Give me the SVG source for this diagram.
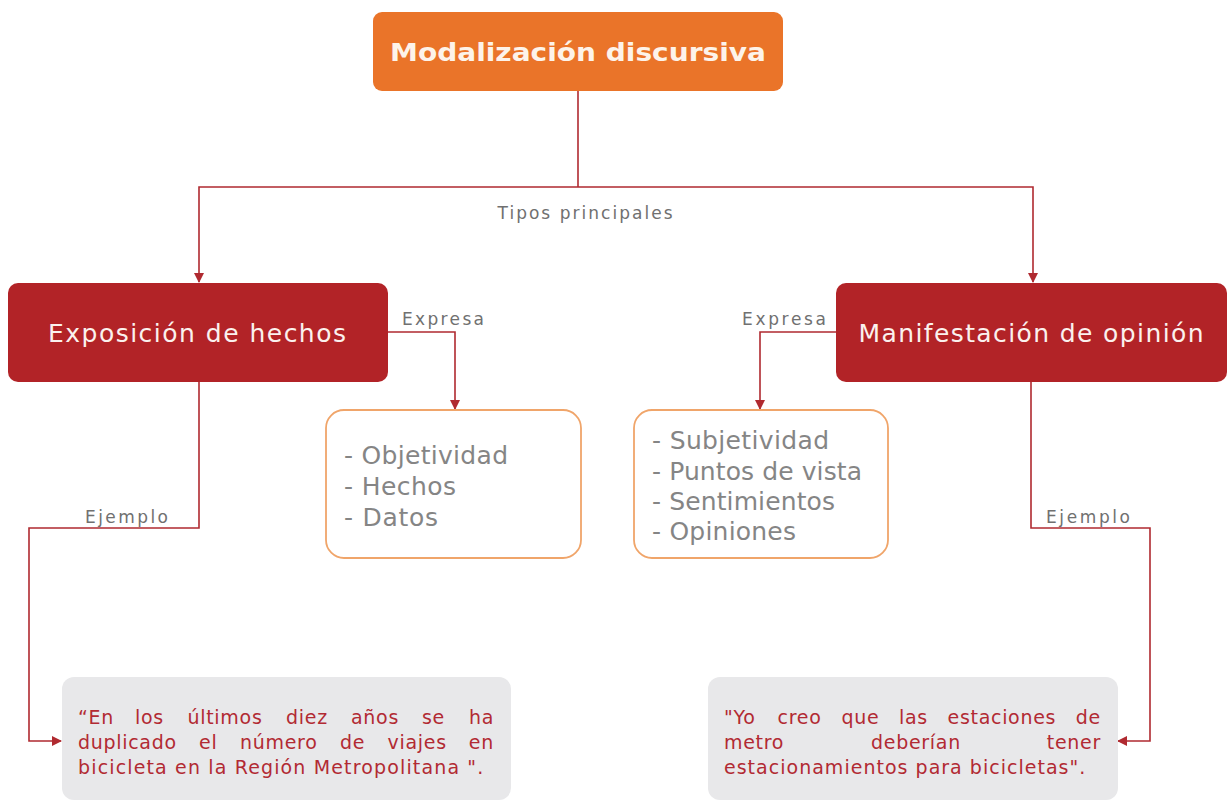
<svg xmlns="http://www.w3.org/2000/svg" width="1227" height="801" viewBox="0 0 1227 801">
<style>
.bg{fill:#ffffff}
.title{font-family:"DejaVu Sans",Verdana,sans-serif;font-weight:bold;font-size:25px;fill:#fdf3ea}
.main{font-family:"DejaVu Sans",Verdana,sans-serif;font-size:25px;fill:#fbf1ee}
.list{font-family:"DejaVu Sans",Verdana,sans-serif;font-size:25px;fill:#858585}
.lbl{font-family:"DejaVu Sans",Verdana,sans-serif;font-size:17px;fill:#707070}
.quote{font-family:"DejaVu Sans",Verdana,sans-serif;font-size:19px;fill:#b22a33;letter-spacing:0.7px}
.conn{fill:none;stroke:#b02a30;stroke-width:1.6}
.red{fill:#b22327}
.opt{fill:#ffffff;stroke:#f0a56a;stroke-width:1.8}
.grey{fill:#e8e8ea}
</style>
<defs>
<marker id="arr" viewBox="0 0 10 10" refX="9" refY="5" markerWidth="10" markerHeight="10" markerUnits="userSpaceOnUse" orient="auto">
<path d="M0,0 L10,5 L0,10 z" fill="#b02a30"/>
</marker>
</defs>
<rect class="bg" x="0" y="0" width="1227" height="801"/>
<g id="connectors">
<path class="conn" d="M578,91 V187"/>
<path class="conn" d="M578,187 H199 V282" marker-end="url(#arr)"/>
<path class="conn" d="M578,187 H1033 V282" marker-end="url(#arr)"/>
<path class="conn" d="M388,332 H455 V409" marker-end="url(#arr)"/>
<path class="conn" d="M836,332 H760 V409" marker-end="url(#arr)"/>
<path class="conn" d="M199,382 V528 H29 V741 H61" marker-end="url(#arr)"/>
<path class="conn" d="M1031,382 V528 H1150 V741 H1118" marker-end="url(#arr)"/>
<text class="lbl" x="585" y="219" text-anchor="middle" textLength="175" lengthAdjust="spacing">Tipos principales</text>
<text class="lbl" x="402" y="325" textLength="82" lengthAdjust="spacing">Expresa</text>
<text class="lbl" x="742" y="325" textLength="84" lengthAdjust="spacing">Expresa</text>
<text class="lbl" x="85" y="523" textLength="83" lengthAdjust="spacing">Ejemplo</text>
<text class="lbl" x="1046" y="523" textLength="84" lengthAdjust="spacing">Ejemplo</text>
</g>
<g id="node-modalizacion">
<rect x="373" y="12" width="410" height="79" rx="9" fill="#ea7429"/>
<text class="title" x="578" y="61" text-anchor="middle" textLength="376" lengthAdjust="spacingAndGlyphs">Modalización discursiva</text>
</g>
<g id="node-exposicion">
<rect class="red" x="8" y="283" width="380" height="99" rx="10"/>
<text class="main" x="197" y="342" text-anchor="middle" textLength="298" lengthAdjust="spacing">Exposición de hechos</text>
</g>
<g id="node-manifestacion">
<rect class="red" x="836" y="283" width="391" height="99" rx="10"/>
<text class="main" x="1031" y="342" text-anchor="middle" textLength="345" lengthAdjust="spacing">Manifestación de opinión</text>
</g>
<g id="node-objetividad">
<rect class="opt" x="326" y="410" width="255" height="148" rx="18"/>
<text class="list" x="344" y="464" textLength="164" lengthAdjust="spacing">- Objetividad</text>
<text class="list" x="344" y="495" textLength="112" lengthAdjust="spacing">- Hechos</text>
<text class="list" x="344" y="526" textLength="94" lengthAdjust="spacing">- Datos</text>
</g>
<g id="node-subjetividad">
<rect class="opt" x="634" y="410" width="254" height="148" rx="18"/>
<text class="list" x="652" y="449" textLength="177" lengthAdjust="spacing">- Subjetividad</text>
<text class="list" x="652" y="480" textLength="210" lengthAdjust="spacing">- Puntos de vista</text>
<text class="list" x="652" y="510" textLength="183" lengthAdjust="spacing">- Sentimientos</text>
<text class="list" x="652" y="540" textLength="144" lengthAdjust="spacing">- Opiniones</text>
</g>
<g id="node-ejemplo-hechos">
<rect class="grey" x="62" y="677" width="449" height="123" rx="12"/>
<text class="quote" y="724"><tspan x="78">“En</tspan><tspan x="135">los</tspan><tspan x="187.5">últimos</tspan><tspan x="286">diez</tspan><tspan x="351">años</tspan><tspan x="422">se</tspan><tspan x="494" text-anchor="end">ha</tspan></text>
<text class="quote" y="749"><tspan x="78">duplicado</tspan><tspan x="199">el</tspan><tspan x="240">número</tspan><tspan x="340">de</tspan><tspan x="387.5">viajes</tspan><tspan x="494" text-anchor="end">en</tspan></text>
<text class="quote" x="78" y="774" textLength="406" lengthAdjust="spacing">bicicleta en la Región Metropolitana ".</text>
</g>
<g id="node-ejemplo-opinion">
<rect class="grey" x="708" y="677" width="410" height="123" rx="12"/>
<text class="quote" y="724"><tspan x="724">"Yo</tspan><tspan x="777.5">creo</tspan><tspan x="841.5">que</tspan><tspan x="899">las</tspan><tspan x="947.5">estaciones</tspan><tspan x="1101" text-anchor="end">de</tspan></text>
<text class="quote" y="749"><tspan x="724">metro</tspan><tspan x="871">deberían</tspan><tspan x="1101" text-anchor="end">tener</tspan></text>
<text class="quote" x="724" y="774" textLength="362" lengthAdjust="spacing">estacionamientos para bicicletas".</text>
</g>
</svg>
